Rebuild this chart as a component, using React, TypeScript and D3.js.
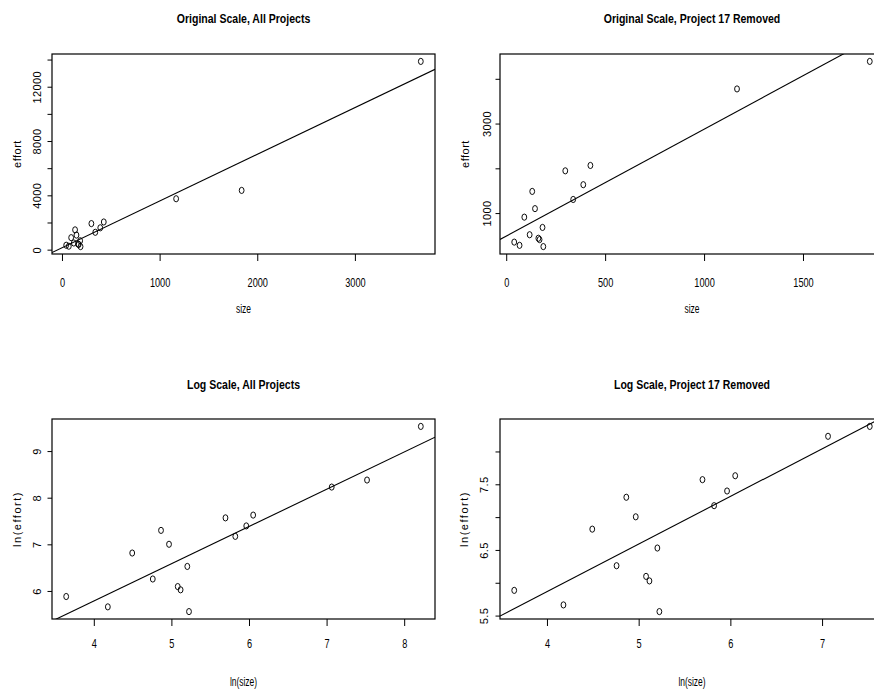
import React from "react";
import * as d3 from "d3";

// Project data (Project 17 is the largest one, last in the list)
const size = [38, 65, 89, 116, 129, 143, 160, 166, 181, 185, 296, 336, 387, 423, 1164, 1835, 3670];
const effort = [362, 290, 920, 527, 1495, 1110, 448, 418, 690, 262, 1955, 1315, 1645, 2075, 3785, 4400, 13900];
const removedIndex = 16;

const titles = [
  "Original Scale, All Projects",
  "Original Scale, Project 17 Removed",
  "Log Scale, All Projects",
  "Log Scale, Project 17 Removed",
];
const xLabels = ["size", "size", "ln(size)", "ln(size)"];
const yLabels = ["effort", "effort", "ln(effort)", "ln(effort)"];

const xTicks = [
  [0, 1000, 2000, 3000],
  [0, 500, 1000, 1500],
  [4, 5, 6, 7, 8],
  [4, 5, 6, 7],
];
const yTicks = [
  [0, 2000, 4000, 6000, 8000, 10000, 12000, 14000],
  [1000, 2000, 3000, 4000],
  [6, 7, 8, 9],
  [5.5, 6, 6.5, 7, 7.5, 8],
];
const yTickLabels = [
  [0, 4000, 8000, 12000],
  [1000, 3000],
  [6, 7, 8, 9],
  [5.5, 6.5, 7.5],
];

const FONT = "'Liberation Sans', Arial, Helvetica, sans-serif";

type Layout = {
  x0: number; x1: number; y0: number; y1: number;
  titleY: number; tickLabelY: number; axisTitleY: number;
  yTickLabelX: number; yAxisTitleX: number;
};

const layouts: Layout[] = [
  { x0: 52, x1: 435, y0: 54, y1: 254, titleY: 22.5, tickLabelY: 287, axisTitleY: 313, yTickLabelX: 40.5, yAxisTitleX: 20.5 },
  { x0: 500, x1: 884, y0: 54, y1: 254, titleY: 22.5, tickLabelY: 287, axisTitleY: 313, yTickLabelX: 490.5, yAxisTitleX: 469 },
  { x0: 52, x1: 435, y0: 419, y1: 619, titleY: 388.5, tickLabelY: 648, axisTitleY: 686, yTickLabelX: 40.5, yAxisTitleX: 20.5 },
  { x0: 500, x1: 884, y0: 419, y1: 619, titleY: 388.5, tickLabelY: 648, axisTitleY: 686, yTickLabelX: 487.5, yAxisTitleX: 468 },
];

function padded(vals: number[]): [number, number] {
  const [lo, hi] = d3.extent(vals) as [number, number];
  const p = (hi - lo) * 0.04;
  return [lo - p, hi + p];
}

function ols(xs: number[], ys: number[]) {
  const mx = d3.mean(xs)!;
  const my = d3.mean(ys)!;
  let sxy = 0, sxx = 0;
  xs.forEach((x, i) => {
    sxy += (x - mx) * (ys[i] - my);
    sxx += (x - mx) * (x - mx);
  });
  const b = sxy / sxx;
  return { a: my - b * mx, b };
}

function Panel({ idx }: { idx: number }) {
  const L = layouts[idx];
  const keep = idx % 2 === 1;
  const logScale = idx >= 2;
  const sel = size.map((_, i) => i).filter((i) => !(keep && i === removedIndex));
  const xs = sel.map((i) => (logScale ? Math.log(size[i]) : size[i]));
  const ys = sel.map((i) => (logScale ? Math.log(effort[i]) : effort[i]));
  const xDom = padded(xs);
  const yDom = padded(ys);
  const x = d3.scaleLinear().domain(xDom).range([L.x0, L.x1]);
  const y = d3.scaleLinear().domain(yDom).range([L.y1, L.y0]);
  const fit = ols(xs, ys);
  const clipId = `clip${idx}`;
  const cx = (L.x0 + L.x1) / 2;
  const cy = (L.y0 + L.y1) / 2;
  return (
    <g>
      <defs>
        <clipPath id={clipId}>
          <rect x={L.x0} y={L.y0} width={L.x1 - L.x0} height={L.y1 - L.y0} />
        </clipPath>
      </defs>
      <text
        transform={`translate(${cx},${L.titleY}) scale(0.78,1)`}
        textAnchor="middle"
        fontFamily={FONT}
        fontWeight="bold"
        fontSize={13.5}
      >
        {titles[idx]}
      </text>
      <rect x={L.x0} y={L.y0} width={L.x1 - L.x0} height={L.y1 - L.y0} fill="none" stroke="#000" strokeWidth={1.2} />
      {xTicks[idx].map((t) => (
        <g key={`xt${t}`}>
          <line x1={x(t)} x2={x(t)} y1={L.y1} y2={L.y1 + 7} stroke="#000" strokeWidth={1} />
          <text
            transform={`translate(${x(t)},${L.tickLabelY}) scale(0.68,1)`}
            textAnchor="middle"
            fontFamily={FONT}
            fontSize={13.5}
          >
            {t}
          </text>
        </g>
      ))}
      {yTicks[idx].map((t) => (
        <line key={`yt${t}`} x1={L.x0 - 4.5} x2={L.x0} y1={y(t)} y2={y(t)} stroke="#000" strokeWidth={1} />
      ))}
      {yTickLabels[idx].map((t) => (
        <text
          key={`yl${t}`}
          transform={`translate(${L.yTickLabelX},${y(t)}) rotate(-90)`}
          textAnchor="middle"
          fontFamily={FONT}
          fontSize={11}
          letterSpacing={0.4}
        >
          {t}
        </text>
      ))}
      <text
        transform={`translate(${cx},${L.axisTitleY}) scale(0.65,1)`}
        textAnchor="middle"
        fontFamily={FONT}
        fontSize={13}
      >
        {xLabels[idx]}
      </text>
      <text
        transform={`translate(${L.yAxisTitleX},${cy}) rotate(-90)`}
        textAnchor="middle"
        fontFamily={FONT}
        fontSize={11}
        letterSpacing={logScale ? 1.5 : 0.5}
      >
        {yLabels[idx]}
      </text>
      <line
        clipPath={`url(#${clipId})`}
        x1={x(xDom[0])}
        x2={x(xDom[1])}
        y1={y(fit.a + fit.b * xDom[0])}
        y2={y(fit.a + fit.b * xDom[1])}
        stroke="#000"
        strokeWidth={1.1}
      />
      {xs.map((v, i) => (
        <ellipse key={`p${i}`} cx={x(v)} cy={y(ys[i])} rx={2.4} ry={3.1} fill="none" stroke="#000" strokeWidth={0.95} />
      ))}
    </g>
  );
}

export default function App() {
  return (
    <svg width={874} height={694} style={{ position: "absolute", left: 0, top: 0, background: "#fff" }}>
      <rect width={874} height={694} fill="#fff" />
      {[0, 1, 2, 3].map((i) => (
        <Panel key={i} idx={i} />
      ))}
    </svg>
  );
}
